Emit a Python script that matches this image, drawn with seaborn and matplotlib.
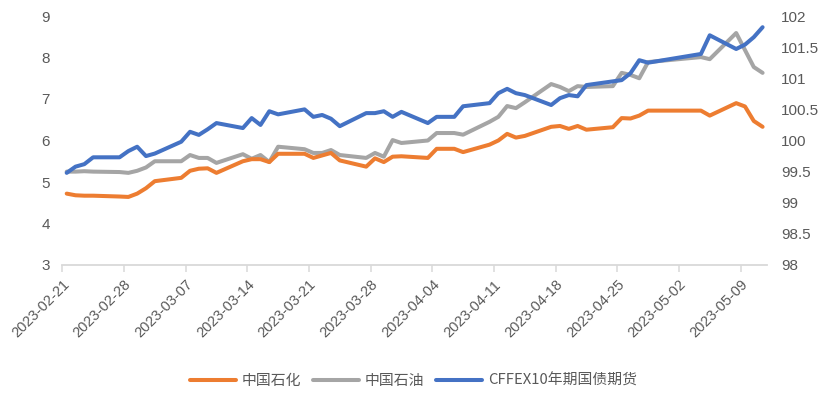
import matplotlib
matplotlib.use("Agg")
import matplotlib.pyplot as plt
import matplotlib.dates as mdates
from matplotlib.lines import Line2D
import seaborn as sns
import pandas as pd

dates = ["2023-02-21", "2023-02-22", "2023-02-23", "2023-02-24", "2023-02-27", "2023-02-28",
         "2023-03-01", "2023-03-02", "2023-03-03", "2023-03-06", "2023-03-07", "2023-03-08",
         "2023-03-09", "2023-03-10", "2023-03-13", "2023-03-14", "2023-03-15", "2023-03-16",
         "2023-03-17", "2023-03-20", "2023-03-21", "2023-03-22", "2023-03-23", "2023-03-24",
         "2023-03-27", "2023-03-28", "2023-03-29", "2023-03-30", "2023-03-31", "2023-04-03",
         "2023-04-04", "2023-04-06", "2023-04-07", "2023-04-10", "2023-04-11", "2023-04-12",
         "2023-04-13", "2023-04-14", "2023-04-17", "2023-04-18", "2023-04-19", "2023-04-20",
         "2023-04-21", "2023-04-24", "2023-04-25", "2023-04-26", "2023-04-27", "2023-04-28",
         "2023-05-04", "2023-05-05", "2023-05-08", "2023-05-09", "2023-05-10", "2023-05-11"]

sinopec = [4.72, 4.68, 4.67, 4.67, 4.65, 4.64,
           4.72, 4.85, 5.02, 5.10, 5.27, 5.32, 5.33, 5.22,
           5.50, 5.55, 5.55, 5.48, 5.68,
           5.68, 5.58, 5.64, 5.70, 5.52,
           5.37, 5.57, 5.48, 5.61, 5.62,
           5.58, 5.80, 5.80, 5.72,
           5.90, 6.00, 6.16, 6.07, 6.11,
           6.33, 6.35, 6.28, 6.35, 6.26,
           6.32, 6.54, 6.53, 6.60, 6.72,
           6.72, 6.60, 6.90, 6.82, 6.47, 6.33]

petrochina = [5.25, 5.25, 5.26, 5.25, 5.24, 5.22,
              5.27, 5.35, 5.50, 5.50, 5.65, 5.58, 5.58, 5.46,
              5.67, 5.56, 5.65, 5.48, 5.85,
              5.79, 5.70, 5.70, 5.77, 5.65,
              5.58, 5.70, 5.61, 6.01, 5.94,
              6.00, 6.18, 6.18, 6.14,
              6.45, 6.57, 6.83, 6.78, 6.92,
              7.36, 7.29, 7.19, 7.31, 7.29,
              7.31, 7.63, 7.58, 7.50, 7.89,
              8.01, 7.96, 8.59, 8.18, 7.77, 7.63]

cffex10y = [99.48, 99.58, 99.62, 99.73, 99.73, 99.83,
            99.90, 99.75, 99.79, 99.98, 100.14, 100.09, 100.18, 100.28,
            100.20, 100.36, 100.25, 100.47, 100.42,
            100.50, 100.38, 100.41, 100.35, 100.23,
            100.44, 100.44, 100.47, 100.38, 100.46,
            100.28, 100.38, 100.38, 100.55,
            100.60, 100.76, 100.83, 100.76, 100.73,
            100.57, 100.68, 100.73, 100.71, 100.89,
            100.95, 100.97, 101.08, 101.29, 101.25,
            101.39, 101.69, 101.47, 101.54, 101.66, 101.82]

labels = ["中国石化", "中国石油", "CFFEX10年期国债期货"]
colors = ["#ED7D31", "#A5A5A5", "#4472C4"]
left_ticks = [3, 4, 5, 6, 7, 8, 9]
right_ticks = [98, 98.5, 99, 99.5, 100, 100.5, 101, 101.5, 102]

sns.set_theme(style="white")
plt.rcParams['font.family'] = ['Liberation Sans', 'Noto Sans CJK SC', 'DejaVu Sans']
txt = "#595959"

df = pd.DataFrame({
    "date": pd.to_datetime(dates) + pd.Timedelta(hours=12),
    labels[0]: sinopec,
    labels[1]: petrochina,
    labels[2]: cffex10y,
})

fig = plt.figure(figsize=(8.27, 3.97), dpi=100)
ax = fig.add_axes([62.3 / 827, 1 - 265 / 397, (767 - 62.3) / 827, (265 - 16) / 397])
ax2 = ax.twinx()

lw = 2.9
sns.lineplot(data=df, x="date", y=labels[1], ax=ax, color=colors[1], lw=lw, legend=False)
sns.lineplot(data=df, x="date", y=labels[0], ax=ax, color=colors[0], lw=lw, legend=False)
sns.lineplot(data=df, x="date", y=labels[2], ax=ax2, color=colors[2], lw=lw, legend=False)

ax.set_xlim(pd.Timestamp("2023-02-21"), pd.Timestamp("2023-05-12"))
ax.set_ylim(3, 9)
ax2.set_ylim(98, 102)
ax.set_yticks(left_ticks)
ax.set_yticklabels([str(v) for v in left_ticks])
ax2.set_yticks(right_ticks)
ax2.set_yticklabels([f"{v:g}" for v in right_ticks])

xt = pd.date_range("2023-02-21", "2023-05-09", freq="7D")
ax.set_xticks(xt)
ax.xaxis.set_major_formatter(mdates.DateFormatter("%Y-%m-%d"))
for lab in ax.get_xticklabels():
    lab.set_rotation(45)
    lab.set_ha("right")
    lab.set_rotation_mode("anchor")

for a in (ax, ax2):
    a.set_xlabel("")
    a.set_ylabel("")
    for s in a.spines.values():
        s.set_visible(False)
    a.grid(False)
ax.spines["bottom"].set_visible(True)
ax.spines["bottom"].set_color("#D9D9D9")
ax.spines["bottom"].set_linewidth(1.3)

ax.tick_params(axis="x", length=5, width=1.1, color="#D9D9D9", labelsize=10.5,
               labelcolor=txt, pad=4, bottom=True)
ax.tick_params(axis="y", length=0, labelsize=11, labelcolor=txt, pad=9)
ax2.tick_params(axis="y", length=0, labelsize=11, labelcolor=txt, pad=10)

handles = [Line2D([0], [0], color=c, lw=lw) for c in colors]
leg = fig.legend(handles, labels, loc="center", bbox_to_anchor=(0.5, 1 - 381 / 397),
                 ncol=3, frameon=False, handlelength=3.1, handletextpad=0.4,
                 columnspacing=0.8, prop={"family": ["Noto Sans CJK SC", "DejaVu Sans"], "size": 10.7})
for t in leg.get_texts():
    t.set_color(txt)

fig.savefig("out.png", dpi=100)
